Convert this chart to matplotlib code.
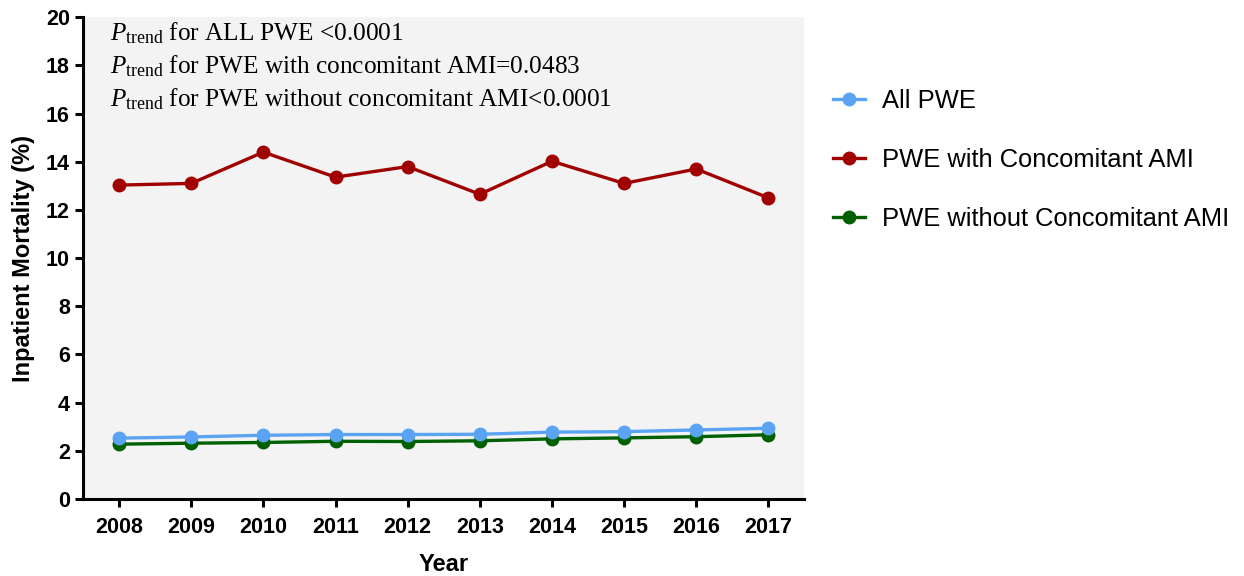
import numpy as np
import matplotlib.pyplot as plt

plt.rcParams['font.family'] = 'Liberation Sans'
plt.rcParams['mathtext.fontset'] = 'custom'
plt.rcParams['mathtext.rm'] = 'Liberation Serif'
plt.rcParams['mathtext.it'] = 'Liberation Serif:italic'

years = [2008, 2009, 2010, 2011, 2012, 2013, 2014, 2015, 2016, 2017]
all_pwe = [2.52, 2.57, 2.64, 2.67, 2.67, 2.68, 2.77, 2.79, 2.86, 2.93]
with_ami = [13.03, 13.10, 14.40, 13.36, 13.80, 12.65, 14.02, 13.10, 13.70, 12.50]
without_ami = [2.27, 2.31, 2.34, 2.39, 2.38, 2.41, 2.49, 2.53, 2.58, 2.66]

labels = ["All PWE", "PWE with Concomitant AMI", "PWE without Concomitant AMI"]
colors = ["#5ba4f4", "#a00000", "#005f00"]

fig = plt.figure(figsize=(12.44, 5.76), dpi=100)
ax = fig.add_axes([0.0667, 0.134, 0.580, 0.836])
ax.set_facecolor('#f3f3f3')

ln_without, = ax.plot(years, without_ami, color=colors[2], lw=2.4, marker='o',
                      markersize=9, label=labels[2], zorder=3)
ln_all, = ax.plot(years, all_pwe, color=colors[0], lw=2.4, marker='o',
                  markersize=9, label=labels[0], zorder=4)
ln_with, = ax.plot(years, with_ami, color=colors[1], lw=2.4, marker='o',
                   markersize=9, label=labels[1], zorder=3)

ax.set_xlim(2007.5, 2017.5)
ax.set_ylim(0, 20)
ax.set_xticks(years)
ax.set_yticks(np.arange(0, 21, 2))

for s in ['top', 'right']:
    ax.spines[s].set_visible(False)
for s in ['left', 'bottom']:
    ax.spines[s].set_linewidth(2.2)
ax.tick_params(width=2.2, length=6, labelsize=15.5)
ax.tick_params(axis='x', pad=7)
for t in ax.get_xticklabels() + ax.get_yticklabels():
    t.set_fontweight('bold')

ax.set_ylabel("Inpatient Mortality (%)", fontsize=17, fontweight='bold', labelpad=8)
ax.set_xlabel("Year", fontsize=17, fontweight='bold', labelpad=11)

notes = [r"$P_{\rm trend}$ for ALL PWE <0.0001",
         r"$P_{\rm trend}$ for PWE with concomitant AMI=0.0483",
         r"$P_{\rm trend}$ for PWE without concomitant AMI<0.0001"]
for i, txt in enumerate(notes):
    ax.text(0.037, 0.952 - i * 0.0685, txt, transform=ax.transAxes,
            fontsize=18.2, family='Liberation Serif', va='baseline', ha='left')

handles = [ln_all, ln_with, ln_without]
fig.legend(handles, [h.get_label() for h in handles], loc='upper left',
           bbox_to_anchor=(0.651, 0.885), frameon=False, fontsize=18.4,
           handlelength=1.25, labelspacing=1.37, handletextpad=0.68)

fig.savefig("out.png", dpi=100)
